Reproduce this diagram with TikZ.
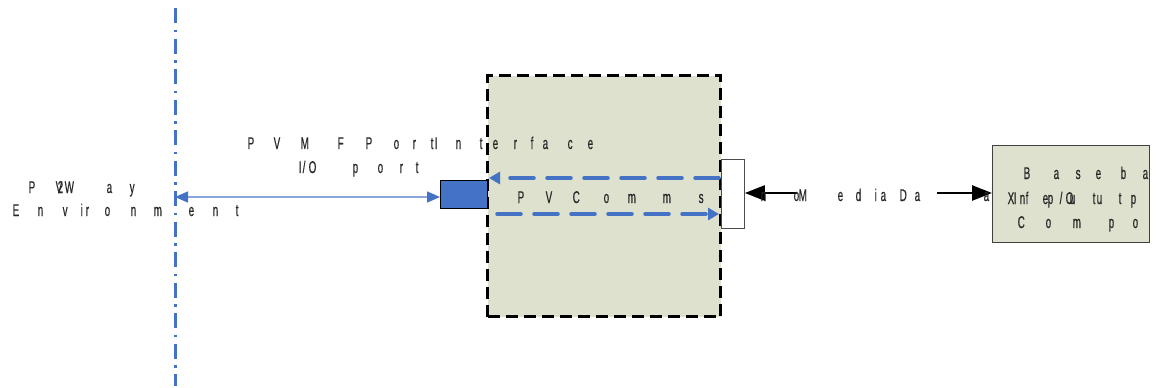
\documentclass[tikz,border=0pt]{standalone}
\usepackage{fontspec}
\setmainfont[FakeStretch=0.58,FakeBold=0.4]{Liberation Sans}
\usetikzlibrary{arrows.meta}
\definecolor{msblue}{HTML}{4472C4}
\definecolor{lightblue}{HTML}{8AA6D8}
\definecolor{boxfill}{HTML}{DDE1CD}
\newcommand\lt[2]{\rlap{\hspace*{#1pt}#2}}
\tikzset{
  lbl/.style={anchor=base west,inner sep=0pt,text=black!85,font=\fontsize{17}{20}\selectfont},
  bigtip/.style={-{Triangle[length=20pt,width=15pt]}},
}
\begin{document}
\begin{tikzpicture}[x=1pt,y=-1pt]
\useasboundingbox (0,0) rectangle (1156,388);
% environment boundary
\coordinate (vtop) at (175,8);
\coordinate (vbot) at (175,386);
\draw[msblue,line width=3pt,dash pattern=on 15pt off 6.5pt on 2.5pt off 6.5pt] (vtop) -- (vbot);
\coordinate (envpt) at (175,197);
% main component
\node[draw=black,fill=boxfill,line width=3pt,dash pattern=on 12pt off 6pt,minimum width=233pt,minimum height=241pt,inner sep=0pt,anchor=north west] (comms) at (486,74) {};
% port
\node[draw=black,fill=msblue,minimum width=47pt,minimum height=28pt,inner sep=0pt,anchor=north west,line width=0.8pt] (port) at (440,180) {};
% right side port
\node[draw=black!70,fill=white,minimum width=23pt,minimum height=69pt,inner sep=0pt,anchor=north west,line width=0.8pt] (mport) at (721,159) {};
% baseband component
\node[draw=black!75,fill=boxfill,minimum width=157pt,minimum height=97pt,inner sep=0pt,anchor=north west,line width=0.8pt] (bb) at (992,145) {};
% connectors
\draw[lightblue,line width=1.5pt,{Triangle[length=13pt,width=11pt,color=msblue]}-{Triangle[length=13pt,width=11pt,color=msblue]}] (envpt) -- (port.west |- envpt);
\coordinate (dtopS) at (719,178);
\coordinate (dtopE) at (489,178);
\coordinate (dbotS) at (497,214);
\coordinate (dbotE) at (719,214);
\draw[msblue,line width=3.5pt,dash pattern=on 24pt off 13pt,line cap=round,-{Triangle[length=11pt,width=12pt]}] (dtopS) -- (dtopE);
\draw[msblue,line width=3.5pt,dash pattern=on 24pt off 13pt,line cap=round,-{Triangle[length=11pt,width=12pt]}] (dbotS) -- (dbotE);
\coordinate (mdL) at (797,193);
\coordinate (mdR) at (937,193);
\draw[black,line width=2.5pt,bigtip] (mdL) -- (mport.east |- mdL);
\draw[black,line width=2.5pt,bigtip] (mdR) -- (bb.west |- mdR);
% texts
\node[lbl] (t1) at (0,193) {\lt{28}{P}\lt{55}{V}\lt{57}{2}\lt{64}{W}\lt{106}{a}\lt{129}{y}};
\node[lbl] (t2) at (0,216) {\lt{12}{E}\lt{37}{n}\lt{62}{v}\lt{80}{i}\lt{85}{r}\lt{104}{o}\lt{130}{n}\lt{153}{m}\lt{188}{e}\lt{212}{n}\lt{235}{t}};
\node[lbl] (t3) at (0,149) {\lt{247}{P}\lt{273}{V}\lt{300}{M}\lt{337}{F}\lt{365}{P}\lt{393}{o}\lt{412}{r}\lt{430}{t}\lt{434}{I}\lt{455}{n}\lt{479}{t}\lt{492}{e}\lt{513}{r}\lt{530}{f}\lt{542}{a}\lt{567}{c}\lt{587}{e}};
\node[lbl] (t4) at (0,173) {\lt{298}{I}\lt{302}{/}\lt{308}{O}\lt{352}{p}\lt{377}{o}\lt{399}{r}\lt{415}{t}};
\node[lbl] (t5) at (0,203) {\lt{517}{P}\lt{545}{V}\lt{572}{C}\lt{603}{o}\lt{627}{m}\lt{662}{m}\lt{698}{s}};
\node[lbl] (t6) at (0,201) {\lt{760}{n}\lt{793}{o}\lt{798}{M}\lt{837}{e}\lt{855}{d}\lt{874}{i}\lt{880}{a}\lt{899}{D}\lt{914}{a}\lt{983}{a}};
\node[lbl] (t7) at (0,179) {\lt{1023}{B}\lt{1053}{a}\lt{1075}{s}\lt{1095}{e}\lt{1120}{b}\lt{1142}{a}};
\node[lbl] (t8) at (0,204) {\lt{1007}{X}\lt{1013}{I}\lt{1019}{n}\lt{1025}{f}\lt{1042}{e}\lt{1047}{p}\lt{1059}{/}\lt{1065}{O}\lt{1069}{u}\lt{1092}{t}\lt{1096}{u}\lt{1118}{t}\lt{1130}{p}};
\node[lbl] (t9) at (0,228) {\lt{1017}{C}\lt{1045}{o}\lt{1072}{m}\lt{1108}{p}\lt{1132}{o}};
\end{tikzpicture}
\end{document}
